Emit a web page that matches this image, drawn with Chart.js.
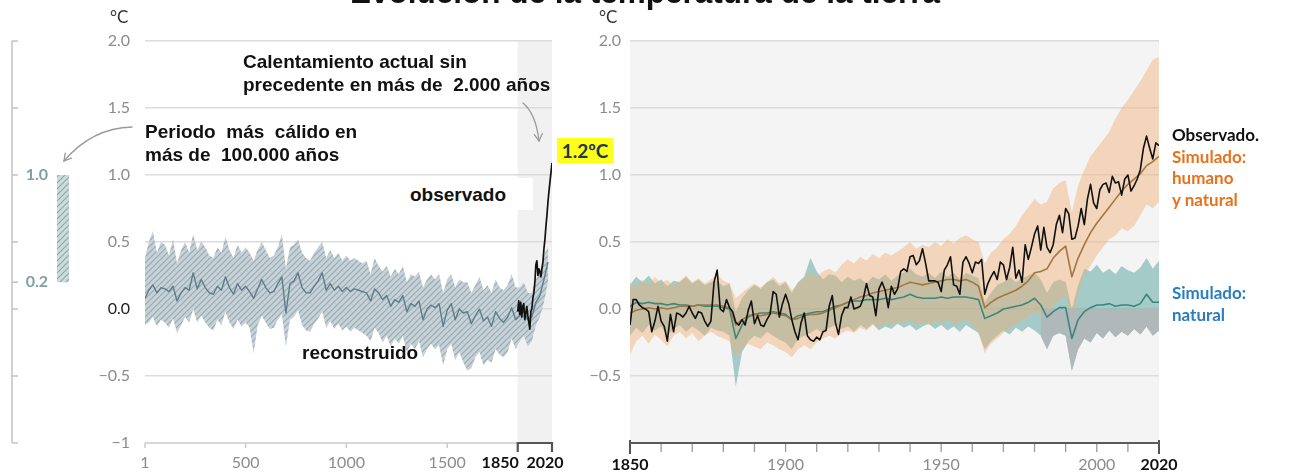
<!DOCTYPE html>
<html lang="es">
<head>
<meta charset="utf-8">
<title>Evolución de la temperatura de la tierra</title>
<script src="https://cdn.jsdelivr.net/npm/chart.js@4.4.1/dist/chart.umd.min.js"></script>
<style>
html,body{margin:0;padding:0;background:#fff;}
#wrap{position:relative;width:1300px;height:472px;overflow:hidden;background:#fff;}
canvas{position:absolute;top:0;}
#cL{left:0;}
#cR{left:578px;}
.ann{position:absolute;white-space:pre;font-family:"Liberation Sans",Arial,sans-serif;font-weight:bold;font-size:19px;line-height:23px;color:#111;}
.leg{position:absolute;white-space:pre;font-family:Lato,sans-serif;font-weight:bold;font-size:17px;line-height:21.5px;}
.unit{position:absolute;font-family:Lato,sans-serif;font-size:17px;color:#333;line-height:20px;}
#title{position:absolute;left:0;width:1290px;text-align:center;top:-23px;font-family:"Liberation Sans",Arial,sans-serif;font-weight:bold;font-size:31.5px;line-height:31px;color:#111;white-space:nowrap;}
#obsBox{position:absolute;left:400px;top:178px;width:133px;height:32px;background:#fff;}
#hl{position:absolute;left:557px;top:138px;width:56px;height:25px;background:#ffff1a;font-family:Lato,sans-serif;font-weight:bold;font-size:19px;line-height:25px;text-align:center;color:#1b3a4b;}
svg{position:absolute;left:0;top:0;}
</style>
</head>
<body>
<div id="wrap">
<canvas id="cL" width="578" height="472"></canvas>
<canvas id="cR" width="722" height="472"></canvas>
<div id="title">Evolución de la temperatura de la tierra</div>
<div class="unit" style="left:110px;top:7px;">°C</div>
<div class="unit" style="left:599px;top:7px;">°C</div>
<div class="ann" style="left:243px;top:50px;">Calentamiento actual sin
precedente en más de  2.000 años</div>
<div class="ann" style="left:145px;top:120px;">Periodo  más  cálido en
más de  100.000 años</div>
<div id="obsBox"></div>
<div class="ann" style="left:410px;top:183px;">observado</div>
<div class="ann" style="left:302px;top:341px;">reconstruido</div>
<div id="hl">1.2ºC</div>
<div class="leg" style="left:1172px;top:124px;"><span style="color:#111">Observado.</span>
<span style="color:#e8711c">Simulado:
humano
y natural</span></div>
<div class="leg" style="left:1172px;top:282px;color:#2a7dc1">Simulado:
natural</div>
<svg width="1300" height="472" style="pointer-events:none">
<path fill="none" stroke="#9a9a9a" stroke-width="1.3" stroke-linecap="round" d="M 523 103 Q 536 114 539 141"/>
<path fill="none" stroke="#9a9a9a" stroke-width="1.3" stroke-linecap="round" d="M 534.3 134.6 L 539 141 L 542.2 133.7"/>
<path fill="none" stroke="#9a9a9a" stroke-width="1.3" stroke-linecap="round" d="M 132 127 Q 92 128 64 161"/>
<path fill="none" stroke="#9a9a9a" stroke-width="1.3" stroke-linecap="round" d="M 71.4 158.1 L 64 161 L 65.2 153.1"/>
</svg>
</div>
<script>
// ---------------- DATA ----------------
// Left panel: x tick labels
const leftXTicks = [1, 500, 1000, 1500, 1850, 2020];
const leftBoldTicks = [1850, 2020];
// Right panel: x tick labels and decade tick marks
const rightXLabels = [1850, 1900, 1950, 2000, 2020];
const rightBoldTicks = [1850, 2020];
const rightTickMarks = [1850,1860,1870,1880,1890,1900,1910,1920,1930,1940,1950,1960,1970,1980,1990,2000,2010,2020];
// Side scale (warmest period in 100,000 years)
const sideScaleTicks = [2, 1.5, 1, 0.5, 0.2, 0, -0.5, -1];
const sideScaleLabels = [1.0, 0.2];
const periodRange = [0.2, 1.0];

// Reconstructed temperature (years 1, 20, 40 ... 2000)
const reconYears = [1].concat(Array.from({length: 100}, (_, i) => 20 * (i + 1)));
const reconMean = [
 0.08, 0.14, 0.18, 0.12, 0.16, 0.15, 0.13, 0.17, 0.06, 0.12,
 0.16, 0.14, 0.27, 0.15, 0.22, 0.16, 0.12, 0.11, 0.17, 0.14,
 0.24, 0.16, 0.11, 0.19, 0.14, 0.17, 0.13, 0.08, 0.15, 0.22,
 0.16, 0.12, 0.13, 0.19, 0.24, -0.03, 0.19, 0.21, 0.27, 0.16,
 0.12, 0.12, 0.17, 0.21, 0.27, 0.14, 0.19, 0.14, 0.17, 0.13,
 0.16, 0.13, 0.15, 0.14, 0.13, 0.12, 0.06, 0.15, 0.12, 0.07,
 0.10, 0.02, 0.07, 0.05, 0.10, -0.02, 0.04, 0.02, 0.06, -0.08,
 0.00, 0.03, 0.01, 0.04, -0.13, -0.01, 0.04, -0.08, 0.00, -0.03,
 -0.02, -0.11, -0.05, 0.00, -0.09, -0.06, -0.13, -0.02, -0.07, -0.10,
 -0.06, 0.01, -0.08, -0.05, -0.02, -0.08, -0.06, 0.05, 0.10, 0.22,
 0.35];
const reconHi = [
 0.38, 0.50, 0.58, 0.42, 0.50, 0.48, 0.40, 0.52, 0.34, 0.44,
 0.50, 0.42, 0.56, 0.44, 0.50, 0.46, 0.40, 0.38, 0.46, 0.42,
 0.54, 0.44, 0.38, 0.48, 0.42, 0.46, 0.42, 0.36, 0.44, 0.50,
 0.44, 0.38, 0.40, 0.46, 0.56, 0.30, 0.46, 0.48, 0.52, 0.42,
 0.38, 0.36, 0.42, 0.46, 0.50, 0.38, 0.44, 0.38, 0.42, 0.36,
 0.40, 0.36, 0.38, 0.36, 0.34, 0.36, 0.26, 0.38, 0.32, 0.28,
 0.32, 0.24, 0.30, 0.26, 0.32, 0.20, 0.26, 0.24, 0.28, 0.16,
 0.22, 0.26, 0.22, 0.26, 0.12, 0.22, 0.26, 0.16, 0.22, 0.20,
 0.20, 0.12, 0.18, 0.24, 0.14, 0.18, 0.12, 0.22, 0.16, 0.14,
 0.18, 0.26, 0.16, 0.16, 0.20, 0.12, 0.12, 0.22, 0.28, 0.40,
 0.46];
const reconLo = [
 -0.12, -0.10, -0.06, -0.13, -0.08, -0.10, -0.14, -0.07, -0.18, -0.12,
 -0.06, -0.10, 0.00, -0.10, -0.05, -0.10, -0.14, -0.16, -0.08, -0.12,
 -0.02, -0.10, -0.15, -0.08, -0.13, -0.10, -0.14, -0.33, -0.12, -0.05,
 -0.10, -0.15, -0.14, -0.08, -0.04, -0.28, -0.08, -0.06, -0.01, -0.12,
 -0.16, -0.17, -0.11, -0.07, -0.02, -0.14, -0.09, -0.15, -0.11, -0.16,
 -0.13, -0.17, -0.14, -0.16, -0.18, -0.20, -0.24, -0.14, -0.18, -0.25,
 -0.20, -0.28, -0.22, -0.26, -0.20, -0.32, -0.26, -0.30, -0.24, -0.36,
 -0.30, -0.26, -0.30, -0.27, -0.42, -0.30, -0.26, -0.38, -0.32, -0.40,
 -0.46, -0.44, -0.36, -0.32, -0.42, -0.38, -0.40, -0.30, -0.34, -0.36,
 -0.32, -0.22, -0.30, -0.24, -0.20, -0.28, -0.24, -0.12, -0.06, 0.05,
 0.20];

// Observed (left panel, 5-year steps 1850-2020)
const obsLeftYears = [1850,1855,1860,1865,1870,1875,1880,1885,1890,1895,1900,1905,1910,1915,1920,1925,1930,1935,1940,1945,1950,1955,1960,1965,1970,1975,1980,1985,1990,1995,2000,2005,2010,2015,2020];
const obsLeft = [-0.02, 0.06, -0.04, 0.05, -0.06, 0.02, 0.04, -0.08, -0.03, 0.02,
 -0.05, -0.10, -0.15, -0.02, 0.00, 0.08, 0.12, 0.20, 0.33, 0.36,
 0.25, 0.30, 0.28, 0.24, 0.30, 0.35, 0.45, 0.52, 0.62, 0.70,
 0.80, 0.88, 0.95, 1.02, 1.09];

// Right panel: observed annual 1850-2020
const obsYears = Array.from({length: 171}, (_, i) => 1850 + i);
const observed = [
 -0.12, 0.07, 0.07, 0.03, 0.01, 0.00, -0.02, -0.17, -0.09, 0.02,
 -0.09, -0.13, -0.24, -0.04, -0.17, -0.03, -0.04, -0.06, -0.03, 0.02,
 -0.03, -0.07, -0.02, -0.03, -0.09, -0.13, -0.09, 0.20, 0.29, 0.00,
 -0.02, 0.07, 0.01, -0.02, -0.10, -0.12, -0.08, -0.12, -0.01, 0.06,
 -0.11, -0.05, -0.12, -0.13, -0.08, -0.04, 0.13, 0.11, -0.06, 0.04,
 0.11, 0.04, -0.08, -0.17, -0.23, -0.10, -0.03, -0.20, -0.23, -0.24,
 -0.21, -0.23, -0.17, -0.16, 0.02, 0.10, -0.10, -0.19, -0.05, 0.01,
 0.01, 0.09, 0.00, 0.01, 0.02, 0.08, 0.19, 0.10, 0.09, -0.05,
 0.15, 0.20, 0.14, 0.01, 0.17, 0.11, 0.15, 0.28, 0.30, 0.28,
 0.39, 0.40, 0.33, 0.36, 0.45, 0.34, 0.21, 0.21, 0.21, 0.20,
 0.13, 0.29, 0.33, 0.39, 0.18, 0.17, 0.11, 0.35, 0.39, 0.34,
 0.27, 0.35, 0.34, 0.37, 0.11, 0.19, 0.24, 0.28, 0.22, 0.35,
 0.33, 0.22, 0.31, 0.46, 0.23, 0.29, 0.20, 0.48, 0.37, 0.46,
 0.56, 0.62, 0.44, 0.61, 0.46, 0.42, 0.48, 0.63, 0.70, 0.57,
 0.75, 0.71, 0.52, 0.53, 0.62, 0.75, 0.63, 0.82, 0.93, 0.79,
 0.75, 0.89, 0.93, 0.94, 0.87, 0.99, 0.94, 0.95, 0.85, 0.97,
 1.00, 0.88, 0.92, 0.97, 1.04, 1.20, 1.29, 1.20, 1.12, 1.24,
 1.22];

// Right panel: simulations, every 2 years 1850-2020
const simYears = Array.from({length: 86}, (_, i) => 1850 + 2 * i);
const humMean = [
 -0.03, -0.01, 0.00, 0.01, 0.00, 0.01, 0.00, 0.01, 0.02, 0.02,
 0.02, 0.03, 0.03, 0.03, 0.03, 0.02, 0.01, -0.12, -0.08, -0.05,
 -0.04, -0.05, -0.04, -0.03, -0.04, -0.05, -0.08, -0.07, -0.05, -0.04,
 -0.04, -0.03, -0.01, 0.01, 0.03, 0.05, 0.07, 0.09, 0.10, 0.12,
 0.13, 0.14, 0.15, 0.16, 0.18, 0.20, 0.19, 0.18, 0.19, 0.20,
 0.21, 0.22, 0.22, 0.21, 0.22, 0.20, 0.17, 0.01, 0.05, 0.08,
 0.10, 0.12, 0.14, 0.17, 0.21, 0.27, 0.28, 0.30, 0.38, 0.43,
 0.47, 0.24, 0.38, 0.48, 0.57, 0.64, 0.70, 0.76, 0.82, 0.88,
 0.93, 0.97, 1.01, 1.07, 1.10, 1.14];
const humHi = [
 0.20, 0.16, 0.22, 0.18, 0.24, 0.19, 0.22, 0.17, 0.21, 0.25,
 0.20, 0.23, 0.19, 0.22, 0.26, 0.21, 0.19, 0.08, 0.12, 0.16,
 0.19, 0.16, 0.20, 0.24, 0.19, 0.21, 0.14, 0.19, 0.23, 0.27,
 0.24, 0.28, 0.30, 0.27, 0.33, 0.37, 0.34, 0.39, 0.36, 0.41,
 0.38, 0.42, 0.40, 0.43, 0.46, 0.50, 0.45, 0.48, 0.46, 0.50,
 0.47, 0.52, 0.49, 0.53, 0.55, 0.52, 0.50, 0.34, 0.42, 0.46,
 0.52, 0.56, 0.62, 0.70, 0.76, 0.82, 0.78, 0.80, 0.90, 0.94,
 0.96, 0.72, 0.92, 1.04, 1.14, 1.20, 1.26, 1.32, 1.42, 1.50,
 1.56, 1.63, 1.70, 1.78, 1.86, 1.88];
const humLo = [
 -0.34, -0.24, -0.20, -0.26, -0.19, -0.23, -0.28, -0.20, -0.17, -0.22,
 -0.18, -0.24, -0.20, -0.17, -0.20, -0.22, -0.24, -0.36, -0.30, -0.26,
 -0.28, -0.30, -0.25, -0.27, -0.30, -0.32, -0.36, -0.30, -0.27, -0.30,
 -0.25, -0.22, -0.20, -0.22, -0.18, -0.16, -0.18, -0.14, -0.16, -0.12,
 -0.14, -0.10, -0.12, -0.09, -0.11, -0.08, -0.12, -0.10, -0.12, -0.09,
 -0.11, -0.08, -0.12, -0.10, -0.08, -0.12, -0.18, -0.33, -0.26, -0.22,
 -0.18, -0.14, -0.12, -0.08, -0.06, -0.02, -0.05, -0.08, 0.02, 0.06,
 0.10, -0.10, 0.12, 0.25, 0.32, 0.40, 0.46, 0.52, 0.55, 0.60,
 0.58, 0.62, 0.70, 0.78, 0.75, 0.80];
const natMean = [
 0.02, 0.05, 0.04, 0.05, 0.04, 0.04, 0.03, 0.04, 0.03, 0.03,
 0.02, 0.03, 0.02, 0.02, 0.02, 0.01, 0.00, -0.22, -0.12, -0.06,
 -0.04, -0.03, -0.03, -0.02, -0.03, -0.04, -0.08, -0.05, -0.04, -0.03,
 -0.02, -0.02, 0.00, 0.02, 0.03, 0.05, 0.06, 0.06, 0.07, 0.07,
 0.07, 0.08, 0.07, 0.08, 0.09, 0.11, 0.09, 0.08, 0.08, 0.08,
 0.09, 0.08, 0.09, 0.09, 0.09, 0.08, 0.07, -0.07, -0.05, -0.03,
 0.00, 0.01, 0.02, 0.03, 0.05, 0.08, 0.03, -0.06, -0.02, 0.01,
 0.01, -0.22, -0.08, -0.02, 0.01, 0.03, 0.03, 0.04, 0.02, 0.03,
 0.03, 0.02, 0.04, 0.11, 0.05, 0.05];
const natHi = [
 0.18, 0.24, 0.20, 0.25, 0.19, 0.22, 0.17, 0.21, 0.20, 0.24,
 0.19, 0.22, 0.18, 0.20, 0.21, 0.17, 0.19, -0.02, 0.08, 0.14,
 0.18, 0.15, 0.20, 0.22, 0.17, 0.20, 0.12, 0.20, 0.24, 0.38,
 0.28, 0.22, 0.26, 0.25, 0.20, 0.24, 0.21, 0.23, 0.19, 0.24,
 0.22, 0.26, 0.21, 0.25, 0.27, 0.30, 0.26, 0.24, 0.27, 0.23,
 0.28, 0.24, 0.27, 0.22, 0.27, 0.25, 0.23, 0.05, 0.12, 0.18,
 0.20, 0.24, 0.20, 0.23, 0.25, 0.27, 0.22, 0.12, 0.20, 0.22,
 0.20, 0.00, 0.18, 0.30, 0.28, 0.33, 0.27, 0.30, 0.26, 0.32,
 0.29, 0.27, 0.31, 0.38, 0.30, 0.36];
const natLo = [
 -0.20, -0.14, -0.18, -0.12, -0.16, -0.13, -0.20, -0.15, -0.12, -0.17,
 -0.13, -0.16, -0.20, -0.14, -0.16, -0.17, -0.20, -0.58, -0.32, -0.24,
 -0.20, -0.22, -0.17, -0.20, -0.23, -0.25, -0.30, -0.22, -0.20, -0.18,
 -0.15, -0.18, -0.14, -0.12, -0.15, -0.13, -0.17, -0.12, -0.15, -0.11,
 -0.16, -0.13, -0.15, -0.11, -0.14, -0.12, -0.16, -0.13, -0.11, -0.15,
 -0.12, -0.16, -0.13, -0.17, -0.12, -0.15, -0.18, -0.30, -0.24, -0.20,
 -0.16, -0.19, -0.14, -0.17, -0.13, -0.16, -0.20, -0.30, -0.20, -0.18,
 -0.20, -0.46, -0.30, -0.22, -0.25, -0.18, -0.22, -0.16, -0.21, -0.17,
 -0.20, -0.15, -0.19, -0.13, -0.20, -0.16];
// Grey zone of the natural range (from 1982 on, below 0)
const greyFrom = 1982;
const greyTop = 0;

// ---------------- HELPERS ----------------
const pts = (xs, ys) => xs.map((x, i) => ({x, y: ys[i]}));
function hatch(bg, fg) {
  const c = document.createElement('canvas');
  c.width = 6; c.height = 6;
  const g = c.getContext('2d');
  g.fillStyle = bg; g.fillRect(0, 0, 6, 6);
  g.strokeStyle = fg; g.lineWidth = 1.2;
  g.beginPath();
  g.moveTo(-1, 7); g.lineTo(7, -1);
  g.moveTo(-4, 4); g.lineTo(4, -4);
  g.moveTo(2, 10); g.lineTo(10, 2);
  g.stroke();
  return g.createPattern(c, 'repeat');
}
const bandHatch = hatch('#c6d2d7', '#98abb3');
const barHatch = hatch('#cddbd9', '#8eaaa7');
const fmtY = v => (v === -1 ? '\u22121' : (v < 0 ? '\u2212' + Math.abs(v).toFixed(1) : v.toFixed(1)));
const tv = c => (c && c.tick ? c.tick.value : NaN);

function yAxis(width, pad, darkZero, showMinusOne) {
  return {
    type: 'linear', min: -1, max: 2,
    afterFit: s => { s.width = width; },
    border: {display: false},
    grid: {drawTicks: false, lineWidth: 1.5,
      color: c => tv(c) === -1 ? 'rgba(0,0,0,0)' : '#dcdcdc'},
    ticks: {stepSize: 0.5, padding: pad,
      font: {family: 'Lato', size: 16},
      color: c => (darkZero && tv(c) === 0) ? '#222' : '#8c8c8c',
      callback: v => (v === -1 && !showMinusOne) ? '' : fmtY(v)}
  };
}
function xAxis(min, max, labels, bold, showLabels) {
  return {
    type: 'linear', min, max,
    afterFit: s => { s.height = 29; s.paddingLeft = 0; s.paddingRight = 0; },
    afterBuildTicks: s => { s.ticks = labels.map(v => ({value: v})); },
    border: {display: false},
    grid: {display: false},
    ticks: {display: showLabels, padding: 4, autoSkip: false, maxRotation: 0,
      font: c => ({family: 'Lato', size: 16, weight: bold.includes(tv(c)) ? 'bold' : 'normal'}),
      color: c => bold.includes(tv(c)) ? '#111' : '#8c8c8c',
      callback: v => String(v)}
  };
}
const common = {
  responsive: false, animation: false, devicePixelRatio: 1,
  plugins: {legend: {display: false}, tooltip: {enabled: false}},
  elements: {point: {radius: 0}, line: {tension: 0, borderJoinStyle: 'round'}}
};

// ---------------- LEFT CHART ----------------
// label placement beside the ticks: [tick value, horizontal offset, align]
const leftLabelPlacement = {1850: [1, 'right'], 2020: [-7, 'center']};
const leftDecor = {
  id: 'leftDecor',
  beforeDraw(chart) {
    const {ctx, chartArea: a, scales: {x}} = chart;
    const x0 = x.getPixelForValue(1850), x1 = x.getPixelForValue(2020);
    ctx.save();
    ctx.fillStyle = '#f1f1f1';
    ctx.fillRect(x0, a.top, x1 - x0, a.bottom - a.top);
    ctx.restore();
  },
  afterDraw(chart) {
    const {ctx, chartArea: a, scales: {x, y}} = chart;
    const yb = a.bottom;
    const x1850 = x.getPixelForValue(1850), x2020 = x.getPixelForValue(2020);
    ctx.save();
    ctx.strokeStyle = '#cacaca'; ctx.lineWidth = 1.5;
    ctx.beginPath(); ctx.moveTo(a.left, yb); ctx.lineTo(x1850, yb); ctx.stroke();
    leftXTicks.filter(v => !leftBoldTicks.includes(v)).forEach(v => {
      const px = x.getPixelForValue(v);
      ctx.beginPath(); ctx.moveTo(px, yb); ctx.lineTo(px, yb + 5); ctx.stroke();
    });
    ctx.strokeStyle = '#555'; ctx.lineWidth = 2.2;
    ctx.beginPath();
    ctx.moveTo(x1850, yb + 9); ctx.lineTo(x1850, yb); ctx.lineTo(x2020, yb); ctx.lineTo(x2020, yb + 9);
    ctx.stroke();
    // tick labels
    ctx.textBaseline = 'middle';
    leftXTicks.forEach(v => {
      const bold = leftBoldTicks.includes(v);
      const pl = leftLabelPlacement[v] || [0, 'center'];
      ctx.font = (bold ? 'bold ' : '') + '16px Lato';
      ctx.fillStyle = bold ? '#111' : '#8c8c8c';
      ctx.textAlign = pl[1];
      ctx.fillText(String(v), x.getPixelForValue(v) + pl[0], yb + 20);
    });
    // side bracket scale
    const sx = 12;
    ctx.strokeStyle = '#c2c2c2'; ctx.lineWidth = 1.5;
    ctx.beginPath(); ctx.moveTo(sx, y.getPixelForValue(2)); ctx.lineTo(sx, y.getPixelForValue(-1)); ctx.stroke();
    sideScaleTicks.forEach(v => {
      const py = y.getPixelForValue(v);
      ctx.beginPath(); ctx.moveTo(sx, py); ctx.lineTo(sx + 6, py); ctx.stroke();
    });
    ctx.fillStyle = '#7fa0a3';
    ctx.font = 'bold 16px Lato';
    ctx.textAlign = 'right'; ctx.textBaseline = 'middle';
    sideScaleLabels.forEach(v => ctx.fillText(v.toFixed(1), 48, y.getPixelForValue(v)));
    const top = y.getPixelForValue(periodRange[1]), bot = y.getPixelForValue(periodRange[0]);
    ctx.fillStyle = barHatch;
    ctx.fillRect(57, top, 12, bot - top);
    ctx.restore();
  }
};

new Chart(document.getElementById('cL'), {
  type: 'line',
  data: {datasets: [
    {label: 'observado', data: pts(obsLeftYears, obsLeft), borderColor: '#111', borderWidth: 1.7, fill: false, order: 0},
    {label: 'reconstruido', data: pts(reconYears, reconMean), borderColor: '#5f7c88', borderWidth: 1.4, fill: false, order: 1},
    {label: 'rango sup', data: pts(reconYears, reconHi), borderColor: 'rgba(0,0,0,0)', borderWidth: 0.01, backgroundColor: bandHatch, fill: '+1', order: 2},
    {label: 'rango inf', data: pts(reconYears, reconLo), borderColor: 'rgba(0,0,0,0)', borderWidth: 0.01, fill: false, order: 2}
  ]},
  options: Object.assign({}, common, {
    layout: {padding: {top: 41, right: 26, bottom: 0, left: 0}},
    scales: {x: xAxis(1, 2020, leftXTicks, leftBoldTicks, false), y: yAxis(145, 15, true, true)}
  }),
  plugins: [leftDecor]
});

// ---------------- RIGHT CHART ----------------
const rightDecor = {
  id: 'rightDecor',
  beforeDraw(chart) {
    const {ctx, chartArea: a} = chart;
    ctx.save();
    ctx.fillStyle = '#f4f4f4';
    ctx.fillRect(a.left, a.top, a.right - a.left, a.bottom - a.top);
    ctx.restore();
  },
  afterDraw(chart) {
    const {ctx, chartArea: a, scales: {x}} = chart;
    const yb = a.bottom;
    ctx.save();
    rightTickMarks.forEach(v => {
      const px = x.getPixelForValue(v);
      const end = rightBoldTicks.includes(v);
      ctx.strokeStyle = end ? '#555' : '#9a9a9a';
      ctx.lineWidth = end ? 2 : 1.3;
      ctx.beginPath(); ctx.moveTo(px, end ? yb - 3 : yb); ctx.lineTo(px, yb + (end ? 11 : 9)); ctx.stroke();
    });
    ctx.strokeStyle = '#5a5a5a'; ctx.lineWidth = 2;
    ctx.beginPath(); ctx.moveTo(a.left, yb); ctx.lineTo(a.right, yb); ctx.stroke();
    ctx.restore();
  }
};

const greyYears = simYears.filter(v => v >= greyFrom);
const greyLo = natLo.filter((v, i) => simYears[i] >= greyFrom);

new Chart(document.getElementById('cR'), {
  type: 'line',
  data: {datasets: [
    {label: 'Observado', data: pts(obsYears, observed), borderColor: '#111', borderWidth: 1.6, fill: false, order: 0},
    {label: 'Simulado: humano y natural', data: pts(simYears, humMean), borderColor: '#a5763f', borderWidth: 1.6, fill: false, order: 1},
    {label: 'Simulado: natural', data: pts(simYears, natMean), borderColor: '#3b877d', borderWidth: 1.6, fill: false, order: 2},
    {label: 'gris sup', data: greyYears.map(x => ({x, y: greyTop})), borderColor: 'rgba(0,0,0,0)', borderWidth: 0.01, backgroundColor: 'rgba(178,182,183,0.92)', fill: '+1', order: 3},
    {label: 'gris inf', data: pts(greyYears, greyLo), borderColor: 'rgba(0,0,0,0)', borderWidth: 0.01, fill: false, order: 3},
    {label: 'humano sup', data: pts(simYears, humHi), borderColor: 'rgba(0,0,0,0)', borderWidth: 0.01, backgroundColor: 'rgba(240,176,118,0.45)', fill: '+1', order: 4},
    {label: 'humano inf', data: pts(simYears, humLo), borderColor: 'rgba(0,0,0,0)', borderWidth: 0.01, fill: false, order: 4},
    {label: 'natural sup', data: pts(simYears, natHi), borderColor: 'rgba(0,0,0,0)', borderWidth: 0.01, backgroundColor: 'rgba(84,162,153,0.5)', fill: '+1', order: 5},
    {label: 'natural inf', data: pts(simYears, natLo), borderColor: 'rgba(0,0,0,0)', borderWidth: 0.01, fill: false, order: 5}
  ]},
  options: Object.assign({}, common, {
    layout: {padding: {top: 41, right: 141, bottom: 0, left: 0}},
    scales: {x: xAxis(1850, 2020, rightXLabels, rightBoldTicks, true), y: yAxis(52, 9, false, false)}
  }),
  plugins: [rightDecor]
});
</script>
</body>
</html>
